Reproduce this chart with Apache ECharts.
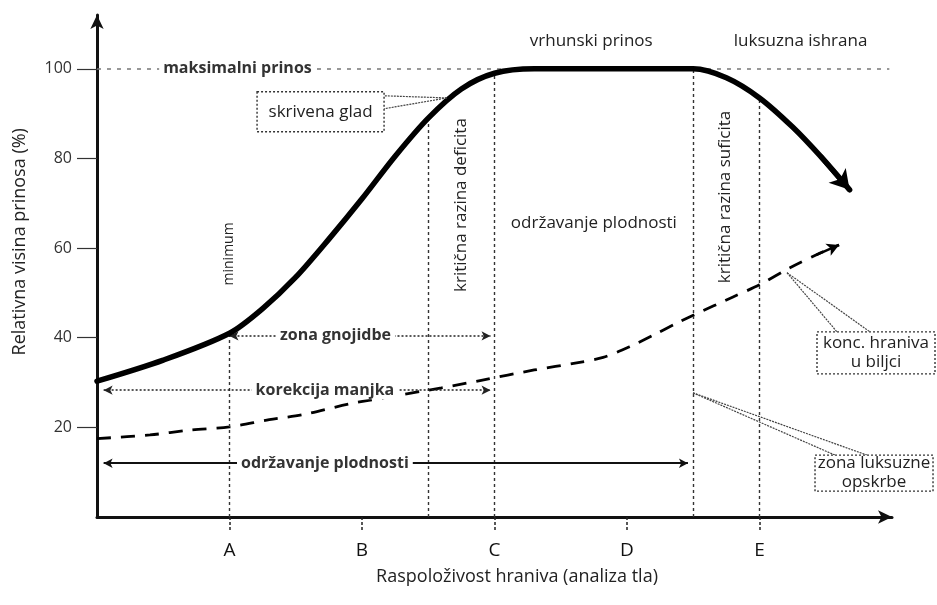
<!DOCTYPE html>
<html>
<head>
<meta charset="utf-8">
<script src="https://cdn.jsdelivr.net/npm/echarts@6/dist/echarts.min.js"></script>
<style>
  html, body { margin: 0; padding: 0; background: #fff; }
  #chart { width: 937px; height: 605px; }
</style>
</head>
<body>
<div id="chart"></div>
<script>
// Relative yield (% of maximum) against soil nutrient availability
const yieldX = [0, 0.5, 1.0, 1.25, 1.5, 1.75, 2.0, 2.25, 2.5, 2.75, 3.0, 3.3, 4.5, 4.75, 5.0, 5.25, 5.46, 5.68];
const yieldY = [30.3, 35, 41, 46.5, 53.5, 62, 71, 80.5, 89, 95.5, 99, 100, 100, 98, 93.5, 87, 80.5, 73];

// Nutrient concentration in the plant
const concX = [0, 0.4, 0.7, 1.0, 1.3, 1.55, 1.9, 2.2, 2.6, 2.9, 3.3, 3.62, 3.82, 4.02, 4.2, 4.38, 4.5, 4.8, 5.0, 5.23, 5.43, 5.6];
const concY = [17.5, 18.3, 19.4, 20.1, 21.7, 22.8, 25.2, 26.8, 28.8, 30.5, 32.8, 34.4, 35.6, 38, 40.6, 43.3, 45, 49.1, 51.8, 55.6, 58.5, 60.7];

// Axis ticks
const xTickValues = [1, 2, 3, 4, 5];
const xTickLabels = ['A', 'B', 'C', 'D', 'E'];
const yTickValues = [20, 40, 60, 80, 100];

// Vertical guides: minimum, critical deficit level, C, critical sufficiency level, E
const guideX = [1.0, 2.5, 3.0, 4.5, 5.0];
const guideTop = [41, 89, 99, 100, 93.5];

// Maximum yield reference
const maxYield = 100;
const maxLineEnd = 5.98;

// Horizontal range arrows
const zoneNames = ['zona gnojidbe', 'korekcija manjka', 'održavanje plodnosti'];
const zoneFrom = [1.0, 0.05, 0.05];
const zoneTo = [2.97, 2.97, 4.46];
const zoneLevel = [40.4, 28.3, 12];
const zoneLabelX = [1.8, 1.72, 1.72];

const FONT = '"Open Sans", "Noto Sans", sans-serif';
const INK = '#111';

const chart = echarts.init(document.getElementById('chart'), null, { renderer: 'canvas' });

const yieldData = yieldX.map((x, i) => [x, yieldY[i]]);
const concData = concX.map((x, i) => [x, concY[i]]);
const nY = yieldX.length, nC = concX.length;

const option = {
  animation: false,
  backgroundColor: '#fff',
  grid: { left: 97, right: 45, top: 15, bottom: 88 },
  xAxis: {
    type: 'value', min: 0, max: 6, interval: 1,
    axisLine: { show: true, symbol: ['none', 'arrow'], symbolSize: [10, 14], lineStyle: { color: INK, width: 3 } },
    axisTick: { show: true, customValues: xTickValues, length: 13, lineStyle: { color: '#222', width: 1.5, type: [3, 2] } },
    axisLabel: {
      customValues: xTickValues, margin: 24, fontSize: 19, fontFamily: FONT, color: INK,
      formatter: v => xTickLabels[xTickValues.indexOf(v)] || ''
    },
    splitLine: { show: false }
  },
  yAxis: {
    type: 'value', min: 0, max: 112, interval: 20,
    axisLine: { show: true, symbol: ['none', 'arrow'], symbolSize: [10, 14], lineStyle: { color: INK, width: 3 } },
    axisTick: { show: true, customValues: yTickValues, length: 20, lineStyle: { color: '#333', width: 1.2 } },
    axisLabel: { customValues: yTickValues, margin: 25, fontSize: 16, fontFamily: FONT, color: '#333' },
    splitLine: { show: false }
  },
  series: [
    {
      name: 'prinos', type: 'line', data: yieldData, showSymbol: false, smooth: 0.3, z: 5,
      lineStyle: { color: '#000', width: 5.5, cap: 'round' },
      markLine: {
        silent: true, symbol: ['none', 'arrow'], symbolSize: [17, 19], label: { show: false },
        lineStyle: { color: '#000', width: 5, type: 'solid' },
        data: [[{ coord: yieldData[nY - 2] }, { coord: yieldData[nY - 1] }]]
      }
    },
    {
      name: 'konc. hraniva', type: 'line', data: concData, showSymbol: false, smooth: 0.3, z: 4,
      lineStyle: { color: '#000', width: 2.8, type: [14, 10] },
      markLine: {
        silent: true, symbol: ['none', 'arrow'], symbolSize: [10, 12], label: { show: false },
        lineStyle: { color: '#000', width: 2.5, type: 'solid' },
        data: [[{ coord: concData[nC - 2] }, { coord: concData[nC - 1] }]]
      }
    },
    {
      name: 'guides', type: 'line', data: [], z: 2,
      markLine: {
        silent: true, symbol: ['none', 'none'], label: { show: false },
        lineStyle: { color: '#333', width: 1.4, type: [3, 3] },
        data: guideX.map((x, i) => [{ coord: [x, 0] }, { coord: [x, guideTop[i]] }])
      }
    },
    {
      name: 'max', type: 'line', data: [], z: 1,
      markLine: {
        silent: true, symbol: ['none', 'none'], label: { show: false },
        lineStyle: { color: '#777', width: 1.5, type: [4, 6] },
        data: [[{ coord: [0, maxYield] }, { coord: [maxLineEnd, maxYield] }]]
      }
    },
    {
      name: 'zones-dotted', type: 'line', data: [], z: 3,
      markLine: {
        silent: true, symbol: ['arrow', 'arrow'], symbolSize: [7, 9], label: { show: false },
        lineStyle: { color: '#222', width: 1.5, type: [2, 2] },
        data: [0, 1].map(i => [{ coord: [zoneFrom[i], zoneLevel[i]] }, { coord: [zoneTo[i], zoneLevel[i]] }])
      }
    },
    {
      name: 'zones-solid', type: 'line', data: [], z: 3,
      markLine: {
        silent: true, symbol: ['arrow', 'arrow'], symbolSize: [7, 9], label: { show: false },
        lineStyle: { color: '#111', width: 1.8, type: 'solid' },
        data: [[{ coord: [zoneFrom[2], zoneLevel[2]] }, { coord: [zoneTo[2], zoneLevel[2]] }]]
      }
    }
  ]
};

chart.setOption(option);

// Annotation layer placed from data coordinates
const px = (x, y) => chart.convertToPixel({ gridIndex: 0 }, [x, y]);
const graphics = [];

function text(str, x, y, opt) {
  const p = px(x, y);
  graphics.push({
    type: 'text', x: p[0], y: p[1], rotation: opt.rotate || 0, z: 100,
    style: {
      text: str, fontFamily: FONT, fontSize: opt.size || 14, fontWeight: opt.bold ? 'bold' : 'normal',
      fill: opt.color || '#222', align: 'center', verticalAlign: 'middle',
      backgroundColor: opt.bg || null, padding: opt.bg ? [1, 4] : 0
    }
  });
}

// Range labels on the arrows
zoneNames.forEach((n, i) => text(n, zoneLabelX[i], zoneLevel[i], { bold: true, bg: '#fff', color: '#333', size: 16 }));
text('maksimalni prinos', 1.06, maxYield, { bold: true, bg: '#fff', color: '#333', size: 16 });

// Region labels
text('vrhunski prinos', 3.73, 106.2, { size: 17 });
text('luksuzna ishrana', 5.31, 106.2, { size: 17 });
text('održavanje plodnosti', 3.75, 65.6, { size: 17 });
text('minimum', 1.0, 58.7, { size: 14, rotate: Math.PI / 2 });
text('kritična razina deficita', 2.75, 69.6, { size: 17, rotate: Math.PI / 2 });
text('kritična razina suficita', 4.74, 71.4, { size: 17, rotate: Math.PI / 2 });

// Axis titles
text('Relativna visina prinosa (%)', -0.58, 61.4, { size: 18, rotate: Math.PI / 2, color: '#222' });
text('Raspoloživost hraniva (analiza tla)', 3.17, -13.4, { size: 18, color: '#222' });

// Callout boxes: top-left in data coords, size in px, anchor on the curve
function callout(lines, bx, by, w, h, anchor, legs, size) {
  const tl = px(bx, by);
  const a = px(anchor[0], anchor[1]);
  legs.forEach(l => {
    graphics.push({
      type: 'line', z: 90,
      shape: { x1: a[0], y1: a[1], x2: tl[0] + l[0], y2: tl[1] + l[1] },
      style: { stroke: '#444', lineWidth: 1.2, lineDash: [2, 1] }
    });
  });
  graphics.push({
    type: 'rect', z: 95,
    shape: { x: tl[0], y: tl[1], width: w, height: h },
    style: { fill: '#fff', stroke: '#333', lineWidth: 1.4, lineDash: [2, 2] }
  });
  graphics.push({
    type: 'text', z: 100, x: tl[0] + w / 2, y: tl[1] + h / 2,
    style: {
      text: lines.join('\n'), fontFamily: FONT, fontSize: size, fill: '#222',
      align: 'center', verticalAlign: 'middle', lineHeight: size + 2
    }
  });
}

callout(['skrivena glad'], 1.208, 94.87, 127, 40, [2.64, 93.5], [[127, 4], [127, 17]], 17);
callout(['konc. hraniva', 'u biljci'], 5.434, 41.3, 118, 42, [5.208, 54.5], [[20, 0], [53, 0]], 17);
callout(['zona luksuzne', 'opskrbe'], 5.419, 13.8, 118, 36, [4.498, 27.7], [[20, 0], [52, 0]], 17);

chart.setOption({ graphic: graphics });
</script>
</body>
</html>
